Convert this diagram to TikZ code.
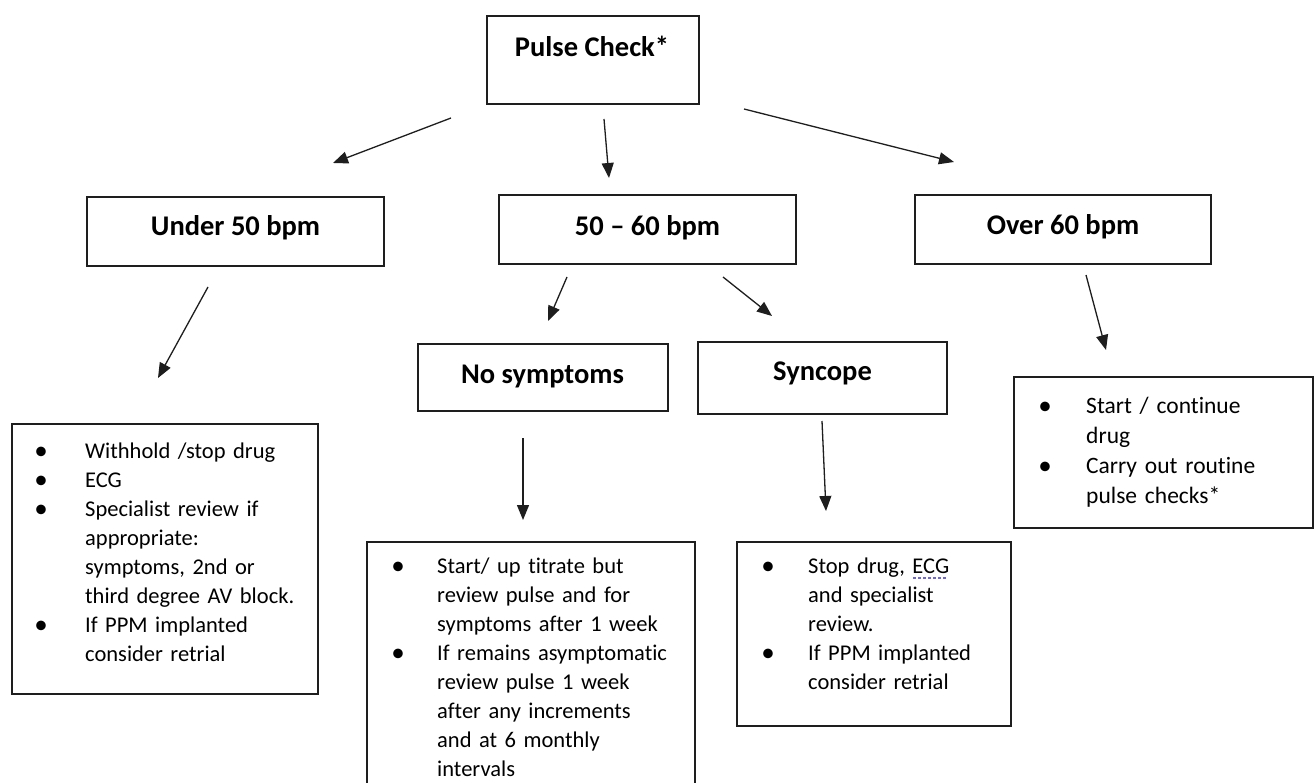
\documentclass[tikz,border=0pt]{standalone}
\usepackage{fontspec}
\setmainfont{Carlito}[Ligatures=NoCommon]
\usetikzlibrary{arrows.meta}
\definecolor{dotblue}{RGB}{110,100,230}
\definecolor{linegray}{RGB}{30,30,30}
\newcommand{\dotul}[1]{\setbox0\hbox{#1}\rlap{\raisebox{-6pt}{\color{dotblue}\leaders\hbox to 5pt{\hss\rule{3pt}{2pt}\hss}\hskip\wd0}}#1}
\begin{document}
\begin{tikzpicture}[x=1pt,y=-1pt,
  box/.style={draw=linegray, line width=1.4pt, inner sep=0pt, outer sep=0pt, anchor=north west},
  head/.style={font=\bfseries\fontsize{28.5}{34}\selectfont, inner sep=0pt, anchor=base},
  bul/.style={font=\fontsize{27}{29}\selectfont, inner sep=0pt, anchor=base},
  btxt/.style={font=\fontsize{22.5}{29}\selectfont, inner sep=0pt, anchor=base west, text width=#1, align=left},
  arr/.style={-{Triangle[length=15pt,width=12pt]}, line width=1.3pt, draw=linegray}]
\clip (0,0) rectangle (1314,783);
\fill[white] (0,0) rectangle (1314,783);
% boxes
\node[box, minimum width=212pt, minimum height=88pt] (pc) at (487,16) {};
\node[box, minimum width=297pt, minimum height=69pt] (u50) at (87,197) {};
\node[box, minimum width=297pt, minimum height=69pt] (m5060) at (499,195) {};
\node[box, minimum width=296pt, minimum height=69pt] (o60) at (915,195) {};
\node[box, minimum width=250pt, minimum height=67pt] (nos) at (418,344) {};
\node[box, minimum width=249pt, minimum height=72pt] (syn) at (698,342) {};
\node[box, minimum width=306pt, minimum height=270pt] (bu50) at (12,424) {};
\node[box, minimum width=328pt, minimum height=270pt] (bnos) at (367,542) {};
\node[box, minimum width=274pt, minimum height=184pt] (bsyn) at (737,542) {};
\node[box, minimum width=299pt, minimum height=151pt] (bo60) at (1014,377) {};
% headings
\node[head] (tpc) at (592,57) {Pulse Check*};
\node[head] (tu50) at (235.5,236) {Under 50 bpm};
\node[head] (tm) at (647.5,236) {50 – 60 bpm};
\node[head] (to60) at (1063,235) {Over 60 bpm};
\node[head] (tnos) at (542.5,383) {No symptoms};
\node[head] (tsyn) at (822.5,381) {Syncope};
% under 50 list
\node[bul] (b1a) at (41,459) {•};
\node[bul] (b1b) at (41,488) {•};
\node[bul] (b1c) at (41,517) {•};
\node[bul] (b1d) at (41,633) {•};
\node[btxt=230pt] (l1) at (85,458) {Withhold /stop drug\\ECG\\Specialist review if\\appropriate:\\symptoms, 2nd or\\third degree AV block.\\If PPM implanted\\consider retrial};
% no symptoms list
\node[bul] (b2a) at (398,574) {•};
\node[bul] (b2b) at (398,661) {•};
\node[btxt=250pt] (l2) at (437,573) {Start/ up titrate but\\review pulse and for\\symptoms after 1 week\\If remains asymptomatic\\review pulse 1 week\\after any increments\\and at 6 monthly\\intervals};
% syncope list
\node[bul] (b3a) at (768,574) {•};
\node[bul] (b3b) at (768,661) {•};
\node[btxt=195pt] (l3) at (808,573) {Stop drug, \dotul{ECG}\\and specialist\\review.\\If PPM implanted\\consider retrial};
% over 60 list
\node[bul] (b4a) at (1045,414) {•};
\node[bul] (b4b) at (1045,474) {•};
\node[btxt=220pt, font=\fontsize{23.5}{30}\selectfont] (l4) at (1086,413) {Start / continue\\drug\\Carry out routine\\pulse checks*};
% connectors
\coordinate (a1s) at (451,118); \coordinate (a1e) at (333,163);
\coordinate (a2s) at (604,119); \coordinate (a2e) at (609,178);
\coordinate (a3s) at (744,109); \coordinate (a3e) at (954,162);
\coordinate (a4s) at (208,287); \coordinate (a4e) at (158,378);
\coordinate (a5s) at (567,277); \coordinate (a5e) at (548,321);
\coordinate (a6s) at (723,277); \coordinate (a6e) at (772,316);
\coordinate (a7s) at (523,438); \coordinate (a7e) at (523,520);
\coordinate (a8s) at (822,421); \coordinate (a8e) at (826,511);
\coordinate (a9s) at (1086,275); \coordinate (a9e) at (1106,350);
\draw[arr] (a1s) -- (a1e);
\draw[arr] (a2s) -- (a2e);
\draw[arr] (a3s) -- (a3e);
\draw[arr] (a4s) -- (a4e);
\draw[arr] (a5s) -- (a5e);
\draw[arr] (a6s) -- (a6e);
\draw[arr] (a7s) -- (a7e);
\draw[arr] (a8s) -- (a8e);
\draw[arr] (a9s) -- (a9e);
\end{tikzpicture}
\end{document}
